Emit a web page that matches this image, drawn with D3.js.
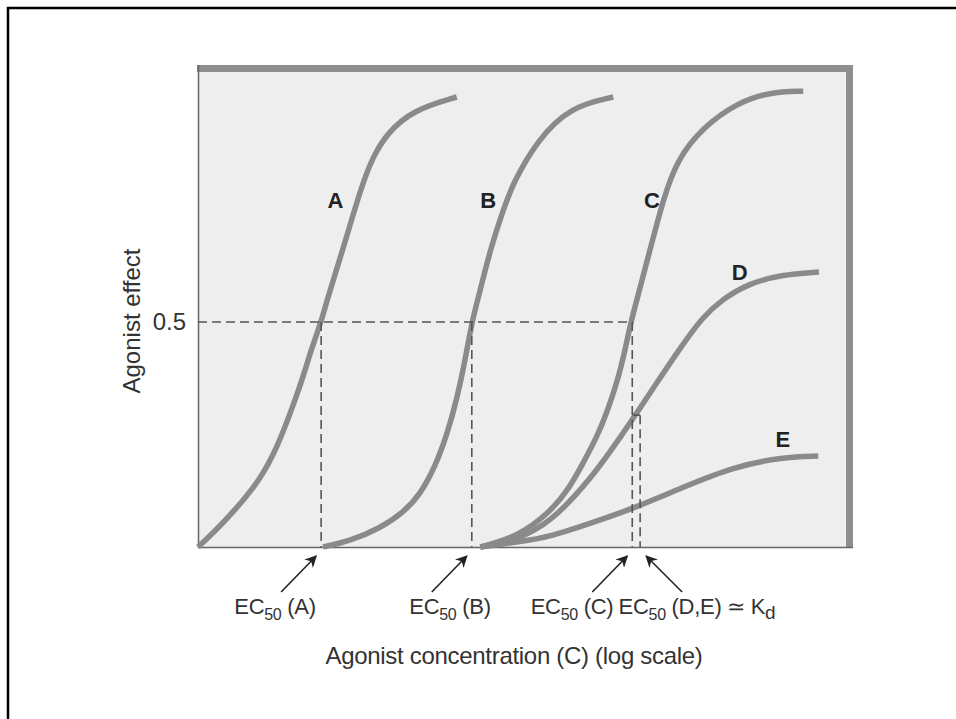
<!DOCTYPE html>
<html>
<head>
<meta charset="utf-8">
<script src="https://cdn.jsdelivr.net/npm/d3@7"></script>
<style>
  body { margin: 0; background: #fff; }
  text { font-family: "Liberation Sans", Arial, sans-serif; }
</style>
</head>
<body>
<svg id="chart" width="956" height="719"></svg>
<script>
// x: agonist concentration in log units (arbitrary), y: fractional effect
var curveA = [[0,0],[0.23,0.031],[0.53,0.076],[0.95,0.149],[1.21,0.222],[1.41,0.298],[1.59,0.371],[1.74,0.444],[1.88,0.5],
              [1.97,0.549],[2.21,0.66],[2.50,0.804],[2.67,0.867],[2.89,0.92],[3.28,0.971],[3.95,1.0]];
var curveB = [[1.91,0],[2.32,0.013],[2.78,0.042],[3.13,0.076],[3.39,0.116],[3.62,0.178],[3.80,0.249],[3.95,0.327],[4.08,0.416],
              [4.18,0.5],[4.31,0.571],[4.46,0.66],[4.66,0.749],[4.81,0.809],[5.18,0.904],[5.68,0.978],[6.34,1.0]];
var curveC = [[4.31,0],[4.87,0.022],[5.37,0.076],[5.68,0.133],[5.88,0.187],[6.09,0.244],[6.24,0.298],[6.41,0.371],[6.52,0.438],
              [6.61,0.5],[6.70,0.549],[6.90,0.66],[7.10,0.771],[7.31,0.86],[7.71,0.933],[8.23,0.987],[8.73,1.011],[9.24,1.013]];
var curveD = [[4.31,0],[4.87,0.016],[5.37,0.053],[5.99,0.149],[6.49,0.253],[6.70,0.298],[7.05,0.375],[7.40,0.45],
              [7.70,0.51],[8.00,0.55],[8.40,0.585],[8.90,0.605],[9.48,0.611]];
var curveE = [[4.31,0],[4.87,0.011],[5.37,0.022],[6.14,0.06],[6.70,0.089],[7.41,0.133],[8.17,0.178],[8.93,0.2],[9.47,0.202]];

var curveNames = ["A", "B", "C", "D", "E"];
var curveLabelPos = [[2.10,0.77],[4.43,0.77],[6.93,0.77],[8.27,0.61],[8.93,0.24]];

var ec50Names = ["(A)", "(B)", "(C)", "(D,E)"];
var ec50X = [1.88, 4.18, 6.63, 6.75];
var ec50Y = [0.5, 0.5, 0.5, 0.293];
var yTicks = [0.5];

var svg = d3.select("#chart");

var plotLeft = 198, plotRight = 853, plotTop = 65, plotBottom = 547;
var x = d3.scaleLinear().domain([0, 10]).range([plotLeft, plotRight]);
var y = d3.scaleLinear().domain([0, 1]).range([plotBottom, 97]);

// outer frame
svg.append("rect")
   .attr("x", 8).attr("y", 8).attr("width", 970).attr("height", 730)
   .attr("fill", "none").attr("stroke", "#000").attr("stroke-width", 2.5);

// plot area
svg.append("rect")
   .attr("x", plotLeft).attr("y", plotTop).attr("width", plotRight - plotLeft).attr("height", plotBottom - plotTop)
   .attr("fill", "#eeeeee");
svg.append("rect")
   .attr("x", plotLeft - 1).attr("y", plotTop).attr("width", plotRight - plotLeft + 1).attr("height", 7)
   .attr("fill", "#8f8f8f");
svg.append("rect")
   .attr("x", plotRight - 7).attr("y", plotTop).attr("width", 7).attr("height", plotBottom - plotTop + 1)
   .attr("fill", "#8f8f8f");

// y axis: only the 0.5 label
var yAxis = d3.axisLeft(y).tickValues(yTicks).tickSize(0).tickPadding(12).tickFormat(d3.format(".1f"));
var gy = svg.append("g").attr("transform", "translate(" + plotLeft + ",0)").call(yAxis);
gy.select(".domain").remove();
gy.selectAll("text").attr("font-size", "24px").attr("fill", "#333")
  .attr("font-family", "'Liberation Sans', Arial, sans-serif");

svg.append("line")
   .attr("x1", plotLeft + 0.5).attr("x2", plotLeft + 0.5).attr("y1", plotTop).attr("y2", plotBottom + 1)
   .attr("stroke", "#666").attr("stroke-width", 1.5);
svg.append("line")
   .attr("x1", plotLeft).attr("x2", plotRight).attr("y1", plotBottom + 0.5).attr("y2", plotBottom + 0.5)
   .attr("stroke", "#666").attr("stroke-width", 1.5);

// curves
var line = d3.line()
   .x(function(d) { return x(d[0]); })
   .y(function(d) { return y(d[1]); })
   .curve(d3.curveBasis);

svg.selectAll("path.curve")
   .data([curveA, curveB, curveC, curveD, curveE])
   .enter()
   .append("path")
   .attr("class", "curve")
   .attr("d", line)
   .attr("fill", "none")
   .attr("stroke", "#8a8a8a")
   .attr("stroke-width", 5.5);

// dashed guide lines
var dash = "9,5";
svg.append("line")
   .attr("x1", x(0)).attr("x2", x(ec50X[2])).attr("y1", y(0.5)).attr("y2", y(0.5))
   .attr("stroke", "#555").attr("stroke-width", 1.6).attr("stroke-dasharray", dash);

svg.selectAll("line.drop")
   .data(ec50X)
   .enter()
   .append("line")
   .attr("class", "drop")
   .attr("x1", function(d) { return x(d); })
   .attr("x2", function(d) { return x(d); })
   .attr("y1", function(d, i) { return y(ec50Y[i]); })
   .attr("y2", y(0))
   .attr("stroke", "#555").attr("stroke-width", 1.6).attr("stroke-dasharray", dash);

svg.append("line")
   .attr("x1", x(ec50X[2]) + 1).attr("x2", x(ec50X[3])).attr("y1", y(ec50Y[3])).attr("y2", y(ec50Y[3]))
   .attr("stroke", "#555").attr("stroke-width", 1.6);

// curve letters
svg.selectAll("text.name")
   .data(curveNames)
   .enter()
   .append("text")
   .attr("class", "name")
   .text(function(d) { return d; })
   .attr("text-anchor", "middle")
   .attr("x", function(d, i) { return x(curveLabelPos[i][0]); })
   .attr("y", function(d, i) { return y(curveLabelPos[i][1]); })
   .attr("dy", "0.35em")
   .attr("font-size", "22px")
   .attr("font-weight", "bold")
   .attr("fill", "#222");

// arrows
svg.append("defs").append("marker")
   .attr("id", "head")
   .attr("viewBox", "0 0 10 10")
   .attr("refX", 9).attr("refY", 5)
   .attr("markerWidth", 12).attr("markerHeight", 12)
   .attr("orient", "auto")
   .attr("markerUnits", "userSpaceOnUse")
   .append("path")
   .attr("d", "M0,0 L10,5 L0,10 L3,5 Z")
   .attr("fill", "#222");

svg.selectAll("line.arrow")
   .data(ec50X)
   .enter()
   .append("line")
   .attr("class", "arrow")
   .attr("x1", function(d, i) { return i === 3 ? x(d) + 42 : x(d) - 40; })
   .attr("x2", function(d, i) { return i === 3 ? x(d) + 6 : x(d) - 5; })
   .attr("y1", 592)
   .attr("y2", 556)
   .attr("stroke", "#222")
   .attr("stroke-width", 1.6)
   .attr("marker-end", "url(#head)");

// EC50 labels
var labelCenter = [275, 450, 572, 697];
var ec = svg.selectAll("text.ec")
   .data(ec50Names)
   .enter()
   .append("text")
   .attr("class", "ec")
   .attr("text-anchor", "middle")
   .attr("x", function(d, i) { return labelCenter[i]; })
   .attr("y", 614)
   .attr("font-size", "22px")
   .attr("letter-spacing", "-0.3px")
   .attr("fill", "#333");
ec.append("tspan").text("EC");
ec.append("tspan").text("50").attr("font-size", "16px").attr("dy", 6);
ec.append("tspan").text(function(d) { return " " + d; }).attr("dy", -6);
ec.filter(function(d, i) { return i === 3; })
  .append("tspan").text(" \u2243 K");
ec.filter(function(d, i) { return i === 3; })
  .append("tspan").text("d").attr("font-size", "19px").attr("dy", 5);

// axis titles
svg.append("text")
   .text("Agonist concentration (C) (log scale)")
   .attr("text-anchor", "middle")
   .attr("x", 514).attr("y", 664)
   .attr("font-size", "24px")
   .attr("letter-spacing", "-0.3px")
   .attr("fill", "#333");

svg.append("text")
   .text("Agonist effect")
   .attr("text-anchor", "middle")
   .attr("transform", "translate(140,321) rotate(-90)")
   .attr("font-size", "24px")
   .attr("fill", "#333");
</script>
</body>
</html>
